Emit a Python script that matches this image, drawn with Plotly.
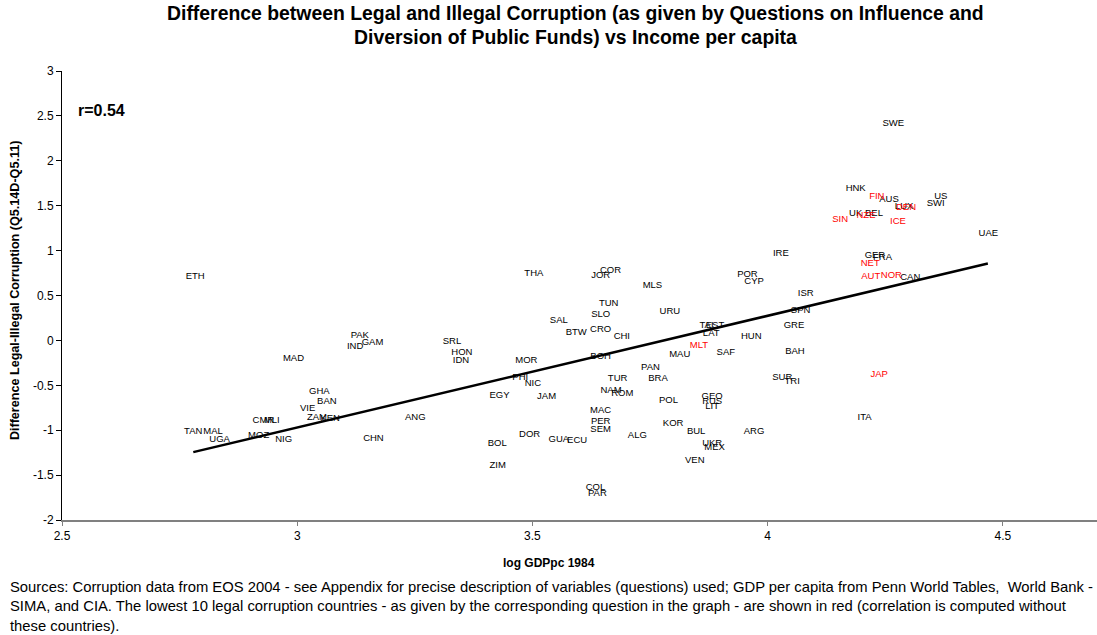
import plotly.graph_objects as go

# Countries (black labels): log GDP per capita 1984 and legal-illegal corruption difference
black_codes = ["ETH", "PAK", "GAM", "IND", "MAD", "GHA", "BAN", "VIE", "ZAM", "KEN",
               "CMR", "MLI", "TAN", "MAL", "UGA", "MOZ", "NIG", "ANG", "CHN", "THA",
               "JOR", "COR", "TUN", "SLO", "SAL", "BTW", "CRO", "CHI", "SRL", "HON",
               "IDN", "MOR", "BOH", "PHI", "NIC", "EGY", "JAM", "BOL", "DOR", "ZIM",
               "GUA", "ECU", "COL", "PAR", "MAC", "PER", "SEM", "TUR", "NAM", "ROM",
               "MLS", "URU", "TAI", "EST", "LAT", "MAU", "SAF", "HUN", "POR", "CYP",
               "PAN", "BRA", "POL", "GEO", "RUS", "LIT", "KOR", "BUL", "ALG", "ARG",
               "UKR", "MEX", "VEN", "IRE", "ISR", "SPN", "GRE", "BAH", "SUR", "TRI",
               "SWE", "HNK", "AUS", "LUX", "US", "SWI", "UK", "BEL", "UAE", "GER",
               "FRA", "CAN", "ITA"]
black_gdp = [2.783, 3.133, 3.160, 3.123, 2.992, 3.047, 3.063, 3.022, 3.042, 3.070,
             2.928, 2.946, 2.779, 2.821, 2.835, 2.918, 2.971, 3.251, 3.162, 3.503,
             3.645, 3.666, 3.662, 3.645, 3.556, 3.593, 3.645, 3.690, 3.329, 3.350,
             3.348, 3.487, 3.645, 3.474, 3.501, 3.430, 3.530, 3.425, 3.494, 3.426,
             3.556, 3.595, 3.634, 3.638, 3.645, 3.645, 3.645, 3.681, 3.667, 3.691,
             3.755, 3.792, 3.870, 3.888, 3.880, 3.813, 3.911, 3.965, 3.957, 3.971,
             3.751, 3.767, 3.789, 3.882, 3.882, 3.882, 3.799, 3.848, 3.723, 3.971,
             3.882, 3.887, 3.845, 4.028, 4.081, 4.070, 4.056, 4.058, 4.031, 4.052,
             4.267, 4.187, 4.258, 4.290, 4.368, 4.357, 4.187, 4.226, 4.469, 4.228,
             4.244, 4.303, 4.206]
black_diff = [0.71, 0.052, -0.02, -0.074, -0.204, -0.574, -0.678, -0.759, -0.863, -0.874,
              -0.889, -0.889, -1.011, -1.011, -1.10, -1.056, -1.10, -0.863, -1.093, 0.741,
              0.722, 0.778, 0.407, 0.289, 0.215, 0.086, 0.122, 0.044, -0.019, -0.137,
              -0.230, -0.230, -0.178, -0.415, -0.481, -0.615, -0.622, -1.148, -1.044, -1.389,
              -1.104, -1.111, -1.637, -1.711, -0.785, -0.907, -0.993, -0.426, -0.556, -0.593,
              0.611, 0.322, 0.167, 0.167, 0.081, -0.156, -0.137, 0.044, 0.730, 0.656,
              -0.307, -0.426, -0.667, -0.630, -0.685, -0.741, -0.926, -1.019, -1.056, -1.011,
              -1.148, -1.193, -1.344, 0.963, 0.519, 0.333, 0.167, -0.130, -0.415, -0.463,
              2.415, 1.693, 1.563, 1.49, 1.6, 1.519, 1.415, 1.407, 1.193, 0.944,
              0.919, 0.704, -0.859]

# Lowest 10 legal corruption countries (red labels)
red_codes = ["FIN", "DEN", "NZE", "SIN", "ICE", "NET", "AUT", "NOR", "JAP", "MLT"]
red_gdp = [4.232, 4.294, 4.209, 4.154, 4.277, 4.218, 4.219, 4.263, 4.237, 3.854]
red_diff = [1.6, 1.474, 1.389, 1.341, 1.326, 0.852, 0.711, 0.722, -0.378, -0.063]

# Linear trend (fitted without the red countries)
trend_gdp = [2.779, 4.468]
trend_diff = [-1.244, 0.856]

x_ticks = [2.5, 3, 3.5, 4, 4.5]
x_ticklabels = ["2.5", "3", "3.5", "4", "4.5"]
y_ticks = [-2, -1.5, -1, -0.5, 0, 0.5, 1, 1.5, 2, 2.5, 3]
y_ticklabels = ["-2", "-1.5", "-1", "-0.5", "0", "0.5", "1", "1.5", "2", "2.5", "3"]

title_lines = ["Difference between Legal and Illegal Corruption (as given by Questions on Influence and",
               "Diversion of Public Funds) vs Income per capita"]
footnote_lines = [
    "Sources: Corruption data from EOS 2004 - see Appendix for precise description of variables "
    "(questions) used; GDP per capita from Penn World Tables,  World Bank -",
    "SIMA, and CIA. The lowest 10 legal corruption countries - as given by the corresponding question "
    "in the graph - are shown in red (correlation is computed without",
    "these countries).",
]

FONT = "Arial, Liberation Sans, sans-serif"

fig = go.Figure()
fig.add_trace(go.Scatter(
    x=black_gdp, y=black_diff, text=black_codes, mode="text",
    textposition="middle center",
    textfont=dict(family=FONT, size=9.5, color="black"),
    hoverinfo="text", showlegend=False))
fig.add_trace(go.Scatter(
    x=red_gdp, y=red_diff, text=red_codes, mode="text",
    textposition="middle center",
    textfont=dict(family=FONT, size=9.5, color="#FF0000"),
    hoverinfo="text", showlegend=False))
fig.add_trace(go.Scatter(
    x=trend_gdp, y=trend_diff, mode="lines",
    line=dict(color="black", width=2.5), hoverinfo="skip", showlegend=False))

# correlation note
fig.add_annotation(x=2.585, y=2.56, xref="x", yref="y", text="<b>r=0.54</b>",
                   showarrow=False, font=dict(family=FONT, size=16, color="black"))

# two-line title
for line, ypos in zip(title_lines, [1.129, 1.0757]):
    fig.add_annotation(x=0.4957, y=ypos, xref="paper", yref="paper",
                       xanchor="center", yanchor="middle", text=f"<b>{line}</b>",
                       showarrow=False, font=dict(family=FONT, size=19.4, color="black"))

# axis titles
fig.add_annotation(x=0.4706, y=-0.0958, xref="paper", yref="paper",
                   xanchor="center", yanchor="middle", text="<b>log GDPpc 1984</b>",
                   showarrow=False, font=dict(family=FONT, size=12, color="black"))
fig.add_annotation(x=-0.0454, y=0.512, xref="paper", yref="paper", textangle=-90,
                   xanchor="center", yanchor="middle",
                   text="<b>Difference Legal-Illegal Corruption (Q5.14D-Q5.11)</b>",
                   showarrow=False, font=dict(family=FONT, size=12.6, color="black"))

# source notes
for line, ypos in zip(footnote_lines, [-0.1492, -0.1915, -0.2361]):
    fig.add_annotation(x=-0.0522, y=ypos, xref="paper", yref="paper",
                       xanchor="left", yanchor="middle", align="left", text=line,
                       showarrow=False, font=dict(family=FONT, size=14.8, color="black"))

fig.update_layout(
    width=1097, height=635,
    margin=dict(l=62, r=0, t=71, b=115),
    paper_bgcolor="white", plot_bgcolor="white",
    font=dict(family=FONT, size=12, color="black"),
    xaxis=dict(range=[2.5, 4.7], tickvals=x_ticks, ticktext=x_ticklabels,
               showgrid=False, zeroline=False, showline=True, linecolor="#808080", linewidth=2,
               ticks="outside", ticklen=4, tickcolor="#808080",
               tickfont=dict(family=FONT, size=12)),
    yaxis=dict(range=[-2, 3], tickvals=y_ticks, ticktext=y_ticklabels,
               showgrid=False, zeroline=False, showline=True, linecolor="black", linewidth=1,
               ticks="outside", ticklen=5, tickcolor="black",
               tickfont=dict(family=FONT, size=12)),
)

fig.write_html("out.html")
